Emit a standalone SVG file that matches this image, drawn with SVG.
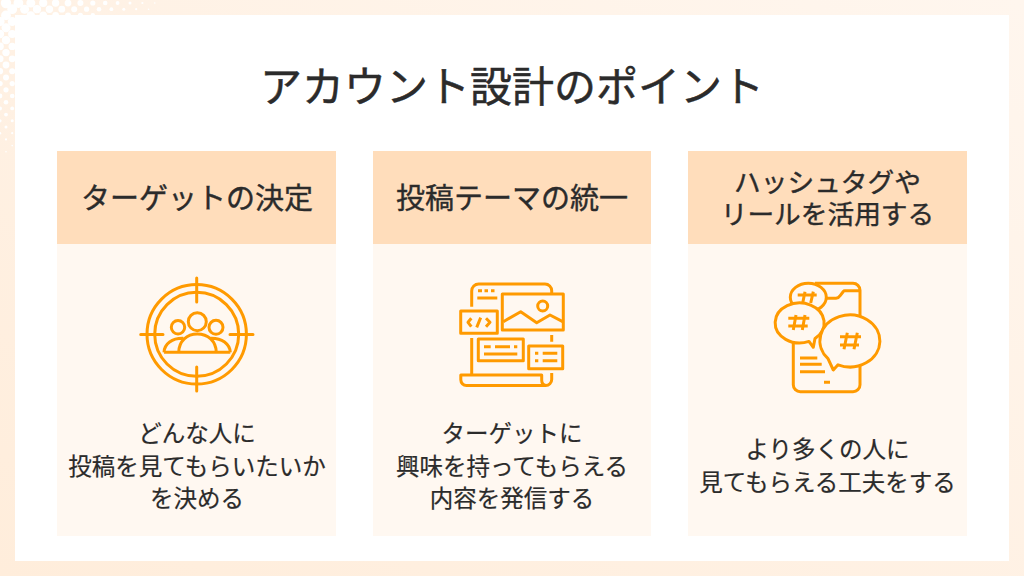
<svg xmlns="http://www.w3.org/2000/svg" width="1024" height="576" viewBox="0 0 1024 576">
<defs><linearGradient id="bg" x1="0" y1="1" x2="1" y2="0"><stop offset="0" stop-color="#FFEDDB"/><stop offset="1" stop-color="#FFF6EE"/></linearGradient></defs>
<style>
text{font-family:"Noto Sans CJK JP","Noto Sans",sans-serif;fill:#2b2b2b;stroke:#2b2b2b;text-anchor:middle;font-weight:400}
.title{font-size:42px;stroke-width:.5}
.head{font-size:29px;stroke-width:.4}
.head2{font-size:26.7px;stroke-width:.4}
.body{font-size:23.5px;stroke-width:.2}
.hb{fill:#FFDDBB}
.bb{fill:#FFF8F1}
.ic{fill:none;stroke:#FF9A00;stroke-width:3;stroke-linecap:butt;stroke-linejoin:round}
.icf{fill:#FFF8F1;stroke:#FF9A00;stroke-width:3;stroke-linejoin:round}
.dots circle{fill:#fff}
</style>
<rect width="1024" height="576" fill="url(#bg)"/>
<g class="dots">
<circle cx="6" cy="3" r="5.2"/><circle cx="18.4" cy="3" r="4.9"/><circle cx="30.8" cy="3" r="4.5"/><circle cx="43.2" cy="3" r="4.1"/><circle cx="55.6" cy="3" r="3.7"/><circle cx="68" cy="3" r="3.4"/><circle cx="80.4" cy="3" r="3"/><circle cx="92.8" cy="3" r="2.6"/><circle cx="105.2" cy="3" r="2.3"/><circle cx="117.6" cy="3" r="1.9"/><circle cx="130" cy="3" r="1.5"/><circle cx="142.4" cy="3" r="1.1"/><circle cx="154.8" cy="3" r=".8"/>
<circle cx="12.2" cy="9.2" r="4.9"/><circle cx="24.6" cy="9.2" r="4.5"/><circle cx="37" cy="9.2" r="4.1"/><circle cx="49.4" cy="9.2" r="3.7"/><circle cx="61.8" cy="9.2" r="3.4"/><circle cx="74.2" cy="9.2" r="3"/><circle cx="86.6" cy="9.2" r="2.6"/><circle cx="99" cy="9.2" r="2.3"/><circle cx="111.4" cy="9.2" r="1.9"/><circle cx="123.8" cy="9.2" r="1.5"/><circle cx="136.2" cy="9.2" r="1.1"/><circle cx="148.6" cy="9.2" r=".8"/>
<circle cx="30.8" cy="15.4" r="4.2"/><circle cx="43.2" cy="15.4" r="3.8"/><circle cx="55.6" cy="15.4" r="3.4"/><circle cx="68" cy="15.4" r="3"/><circle cx="80.4" cy="15.4" r="2.6"/><circle cx="92.8" cy="15.4" r="2.3"/>
<circle cx="6" cy="15.4" r="4.9"/><circle cx="6" cy="27.8" r="4.5"/><circle cx="6" cy="40.2" r="4.1"/><circle cx="6" cy="52.6" r="3.7"/><circle cx="6" cy="65" r="3.4"/><circle cx="6" cy="77.4" r="3"/><circle cx="6" cy="89.8" r="2.6"/><circle cx="6" cy="102.2" r="2.3"/><circle cx="6" cy="114.6" r="1.9"/><circle cx="6" cy="127" r="1.5"/><circle cx="6" cy="139.4" r="1.1"/><circle cx="6" cy="151.8" r=".8"/>
<circle cx="12.2" cy="21.6" r="4.5"/><circle cx="12.2" cy="34" r="4.1"/><circle cx="12.2" cy="46.4" r="3.7"/><circle cx="12.2" cy="58.8" r="3.4"/><circle cx="12.2" cy="71.2" r="3"/><circle cx="12.2" cy="83.6" r="2.6"/><circle cx="12.2" cy="96" r="2.3"/><circle cx="12.2" cy="108.4" r="1.9"/><circle cx="12.2" cy="120.8" r="1.5"/><circle cx="12.2" cy="133.2" r="1.1"/><circle cx="12.2" cy="145.6" r=".8"/>
<circle cx="0" cy="21.6" r="4.6"/><circle cx="0" cy="34" r="4.2"/><circle cx="0" cy="46.4" r="3.8"/><circle cx="0" cy="58.8" r="3.5"/><circle cx="0" cy="71.2" r="3.1"/><circle cx="0" cy="83.6" r="2.7"/><circle cx="0" cy="96" r="2.4"/><circle cx="0" cy="108.4" r="2"/><circle cx="0" cy="120.8" r="1.6"/><circle cx="0" cy="133.2" r="1.2"/>
</g>
<rect x="15" y="15" width="994" height="546" fill="#fff"/>
<text class="title" x="512" y="102">アカウント設計のポイント</text>

<g id="card1">
<rect class="bb" x="57" y="244" width="279" height="292"/>
<rect class="hb" x="57" y="151" width="279" height="93"/>
<text class="head" x="197" y="209">ターゲットの決定</text>
<g class="ic">
<circle cx="196.7" cy="334.3" r="49.7"/><circle cx="196.7" cy="334.3" r="42"/>
<path stroke-linecap="round" d="M196.7 278V302M196.7 367V391M140.7 334.5H163M230 334.5H253"/>
<circle cx="197.3" cy="321.7" r="9"/><circle cx="178" cy="327.3" r="6.7"/><circle cx="216" cy="327.3" r="7"/>
<path d="M164 352.3H230.3M178.7 352.3C179 341 187 334 197.3 334C208 334 216 341 216.3 352.3M164 352.3C164.5 344 172 338 183.3 338.3M230.3 352.3C229.8 344 222 338 210.7 338.3"/>
</g>
<text class="body" x="197" y="442">どんな人に</text>
<text class="body" x="197" y="475">投稿を見てもらいたいか</text>
<text class="body" x="197" y="507">を決める</text>
</g>

<g id="card2">
<rect class="bb" x="373" y="244" width="278" height="292"/>
<rect class="hb" x="373" y="151" width="278" height="93"/>
<text class="head" x="512" y="209">投稿テーマの統一</text>
<g class="ic">
<path d="M471.7 306.7V291a7 7 0 0 1 7-7H545a6.7 6.7 0 0 1 6.7 6.7V293M471.7 338V375M551.7 335V341.7M551.7 373V379.5a6 6 0 0 1-6 6H466.5a5.7 5.7 0 0 1-5.7-5.7V375H541.7V380a5.5 5.5 0 0 0 4 5.5"/>
<path d="M478 290.7H482M484.5 290.7H488M491 290.7H494.5M477.3 298H497.3"/>
<rect x="502.3" y="294" width="61" height="36"/>
<path d="M503.3 321.7L520.7 311.7L536.7 322.7L550 315L562.7 321.7"/>
<circle cx="542.7" cy="306" r="5"/>
<rect x="460.7" y="311" width="36.6" height="22.3"/>
<path d="M471.3 318.3L468 322.3L471.3 326.7M480.7 317.7L476.7 327.3M486 318.3L490 322.3L486 326.7"/>
<rect x="478.3" y="339" width="45" height="21.7"/>
<path d="M484 346.7H490.7M495 346.7H510M514 346.7H517.3M484 354H517.3"/>
<rect x="528.7" y="346" width="34" height="22.7"/>
<path d="M535 353.3H538.3M542.7 353.3H557.3M535 360.7H538.3M542.7 360.7H557.3"/>
</g>
<text class="body" x="512" y="442">ターゲットに</text>
<text class="body" x="512" y="475">興味を持ってもらえる</text>
<text class="body" x="512" y="507">内容を発信する</text>
</g>

<g id="card3">
<rect class="bb" x="688" y="244" width="279" height="292"/>
<rect class="hb" x="688" y="151" width="279" height="93"/>
<text class="head2"><tspan x="827.5" y="192">ハッシュタグや</tspan><tspan x="827.5" y="224">リールを活用する</tspan></text>
<g class="ic">
<path d="M793.3 343V384.7a7 7 0 0 0 7 7H853a7 7 0 0 0 7-7V362M860 317V290.3a7 7 0 0 0-7-7H815M825 298.3H836a5 5 0 0 0 4-2.5L843.3 291.5a2 2 0 0 1 2-.8H859.3"/>
<path d="M800 358H817.3M800 364.3H821.7M800 371.7H825M824 382.3H830"/>
<ellipse class="icf" cx="808.3" cy="297.3" rx="18" ry="14"/>
<path d="M805 291.7L802.7 303M813.3 291.7L810.7 303M797.7 295H816.7"/>
<path class="icf" d="M809 341.4A24.5 20 0 1 1 815 338.5L813.3 347.3Z"/>
<path d="M796 315L793.3 330M805 315L802.3 330M788.3 318.3H809.3M788.3 326H807.7"/>
<path class="icf" d="M828 358.7A30 26 0 1 1 838 364.8L833.3 370Z"/>
<path d="M847.3 332.7L844 349.3M857.3 332.7L854 349.3M840 336.7H861M840 345H859"/>
</g>
<text class="body" x="827.5" y="458">より多くの人に</text>
<text class="body" x="827.5" y="491">見てもらえる工夫をする</text>
</g>
</svg>
